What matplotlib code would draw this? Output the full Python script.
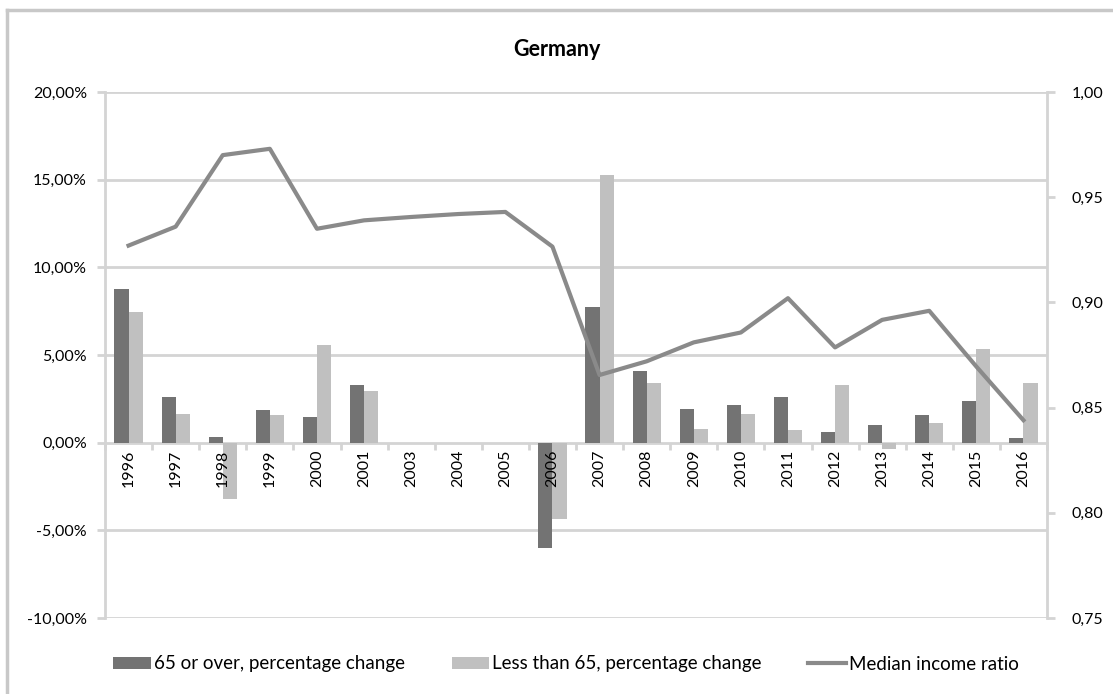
"""Germany: pensioner vs working-age income change and median income ratio."""

import matplotlib
matplotlib.use("Agg")
import matplotlib.pyplot as plt
import numpy as np
from matplotlib.lines import Line2D
from matplotlib.patches import Patch

plt.rcParams["font.family"] = ["Lato", "DejaVu Sans"]

years = ["1996", "1997", "1998", "1999", "2000", "2001", "2003", "2004", "2005",
         "2006", "2007", "2008", "2009", "2010", "2011", "2012", "2013", "2014",
         "2015", "2016"]
# percentage change, in %
over_65 = [8.76, 2.60, 0.30, 1.88, 1.44, 3.27, 0.0, 0.0, 0.0,
           -6.00, 7.73, 4.09, 1.90, 2.12, 2.60, 0.62, 0.98, 1.55,
           2.35, 0.27]
under_65 = [7.48, 1.65, -3.20, 1.56, 5.55, 2.92, 0.0, 0.0, 0.0,
            -4.35, 15.27, 3.40, 0.78, 1.65, 0.72, 3.27, -0.38, 1.10,
            5.34, 3.38]
median_ratio = [0.927, 0.936, 0.970, 0.973, 0.935, 0.939, 0.9406, 0.942, 0.943,
                0.9265, 0.8655, 0.872, 0.881, 0.8857, 0.902, 0.8786, 0.8917, 0.896,
                0.8695, 0.844]

DARK = "#737373"
LIGHT = "#c0c0c0"
LINE = "#8a8a8a"
GRID = "#d4d4d4"

fig = plt.figure(figsize=(11.13, 6.94), dpi=100)
ax = fig.add_axes([105 / 1113, 1 - 618 / 694, 942 / 1113, 526 / 694])

x = np.arange(len(years))
w = 0.3
# bars sit under the axis artists so the year labels stay readable on top
ax.bar(x - w / 2, over_65, w, color=DARK, zorder=1)
ax.bar(x + w / 2, under_65, w, color=LIGHT, zorder=1)

ax.set_xlim(-0.5, len(years) - 0.5)
ax.set_ylim(-10, 20)
yt = np.arange(-10, 21, 5)
ax.set_yticks(yt)
ax.set_yticklabels([f"{v:.2f}%".replace(".", ",") for v in yt])
for v in yt:
    if v != 0:
        ax.axhline(v, color=GRID, linewidth=2, zorder=0.5)
ax.set_axisbelow(False)

ax.spines["bottom"].set_position(("data", 0))
ax.spines["bottom"].set_color(GRID)
ax.spines["bottom"].set_linewidth(2)
ax.spines["bottom"].set_zorder(0.6)
ax.spines["top"].set_visible(False)
ax.spines["right"].set_visible(False)
ax.spines["left"].set_color(GRID)
ax.spines["left"].set_linewidth(2)

ax.set_xticks(x)
ax.set_xticklabels(years, rotation=90, fontsize=11.5)
ax.set_xticks(np.arange(-0.5, len(years), 1), minor=True)
ax.tick_params(axis="x", which="major", length=0, pad=5)
ax.tick_params(axis="x", which="minor", length=5, width=2, color=GRID)
ax.tick_params(axis="y", length=6, width=2, color=GRID, labelsize=11.5, pad=7)

ax2 = ax.twinx()
ax2.plot(x, median_ratio, color=LINE, linewidth=3, zorder=4)
ax2.set_ylim(0.75, 1.00)
rt = np.arange(0.75, 1.001, 0.05)
ax2.set_yticks(rt)
ax2.set_yticklabels([f"{v:.2f}".replace(".", ",") for v in rt])
ax2.tick_params(axis="y", length=6, width=2, color=GRID, labelsize=11.5, pad=12)
for side in ("top", "left", "bottom"):
    ax2.spines[side].set_visible(False)
ax2.spines["right"].set_color(GRID)
ax2.spines["right"].set_linewidth(2)

fig.text(557 / 1113, 1 - 50 / 694, "Germany", ha="center", va="center",
         fontsize=15.5, fontweight="bold")

handles = [Patch(facecolor=DARK, label="65 or over, percentage change"),
           Patch(facecolor=LIGHT, label="Less than 65, percentage change"),
           Line2D([0], [0], color=LINE, linewidth=3, label="Median income ratio")]
fig.legend(handles=handles, loc="center", bbox_to_anchor=(566 / 1113, 1 - 664 / 694),
           ncol=3, frameon=False, fontsize=13.5, handlelength=2.0, handleheight=0.55,
           handletextpad=0.15, columnspacing=2.5)

# outer chart frame (left and top edges visible)
fig.add_artist(Line2D([7 / 1113, 7 / 1113], [0, 1 - 10 / 694], color="#c8c8c8",
                      linewidth=2.5, transform=fig.transFigure))
fig.add_artist(Line2D([7 / 1113, 1], [1 - 10 / 694, 1 - 10 / 694], color="#c8c8c8",
                      linewidth=2.5, transform=fig.transFigure))

fig.savefig("out.png", dpi=100)
